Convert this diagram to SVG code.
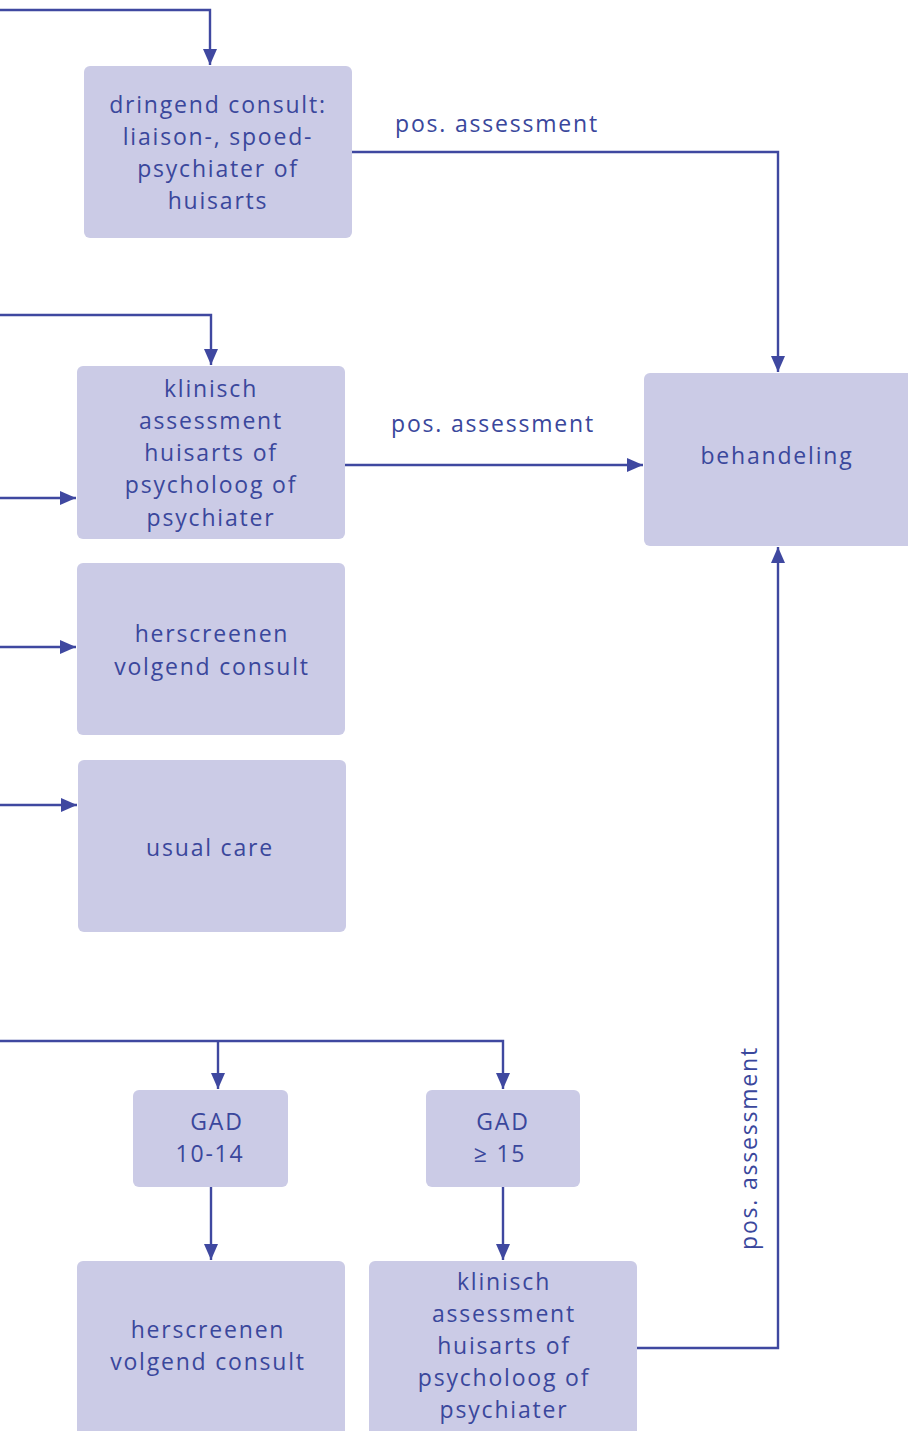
<svg xmlns="http://www.w3.org/2000/svg" width="908" height="1431" viewBox="0 0 908 1431">
<defs>
<style>
.box{fill:#CBCBE6;}
.t{font-family:"Open Sans","Noto Sans",sans-serif;font-size:23px;fill:#3A479C;text-anchor:middle;letter-spacing:1.8px;}
.c{fill:none;stroke:#3F48A0;stroke-width:2.4;}
</style>
<marker id="ah" viewBox="0 0 16 14" refX="16" refY="7" markerWidth="16" markerHeight="14" markerUnits="userSpaceOnUse" orient="auto">
<path d="M0,0 L16,7 L0,14 Z" fill="#3F48A0"/>
</marker>
</defs>
<rect width="908" height="1431" fill="#fff"/>
<g id="connectors">
<path class="c" d="M0,10 H210 V65" marker-end="url(#ah)"/>
<path class="c" d="M352,152 H778 V372" marker-end="url(#ah)"/>
<path class="c" d="M0,315 H211 V365" marker-end="url(#ah)"/>
<path class="c" d="M345,465 H643" marker-end="url(#ah)"/>
<path class="c" d="M0,498 H76" marker-end="url(#ah)"/>
<path class="c" d="M0,647 H76" marker-end="url(#ah)"/>
<path class="c" d="M0,805 H77" marker-end="url(#ah)"/>
<path class="c" d="M0,1041 H503 V1089" marker-end="url(#ah)"/>
<path class="c" d="M218,1041 V1089" marker-end="url(#ah)"/>
<path class="c" d="M211,1187 V1260" marker-end="url(#ah)"/>
<path class="c" d="M503,1187 V1260" marker-end="url(#ah)"/>
<path class="c" d="M637,1348 H778 V547" marker-end="url(#ah)"/>
<text class="t" x="497" y="132">pos. assessment</text>
<text class="t" x="493" y="432">pos. assessment</text>
<text class="t" transform="translate(757,1148) rotate(-90)">pos. assessment</text>
</g>
<g id="dringend">
<rect class="box" x="84" y="66" width="268" height="172" rx="6"/>
<text class="t" x="218" y="113">dringend consult:</text>
<text class="t" x="218" y="145">liaison-, spoed-</text>
<text class="t" x="218" y="177">psychiater of</text>
<text class="t" x="218" y="209">huisarts</text>
</g>
<g id="klinisch1">
<rect class="box" x="77" y="366" width="268" height="173" rx="6"/>
<text class="t" x="211" y="397">klinisch</text>
<text class="t" x="211" y="429">assessment</text>
<text class="t" x="211" y="461">huisarts of</text>
<text class="t" x="211" y="493">psycholoog of</text>
<text class="t" x="211" y="526">psychiater</text>
</g>
<g id="herscreenen1">
<rect class="box" x="77" y="563" width="268" height="172" rx="6"/>
<text class="t" x="212" y="642">herscreenen</text>
<text class="t" x="212" y="675">volgend consult</text>
</g>
<g id="usualcare">
<rect class="box" x="78" y="760" width="268" height="172" rx="6"/>
<text class="t" x="210" y="856">usual care</text>
</g>
<g id="behandeling">
<rect class="box" x="644" y="373" width="274" height="173" rx="6"/>
<text class="t" x="777" y="464">behandeling</text>
</g>
<g id="gad1014">
<rect class="box" x="133" y="1090" width="155" height="97" rx="6"/>
<text class="t" x="217" y="1130">GAD</text>
<text class="t" x="210" y="1162">10-14</text>
</g>
<g id="gad15">
<rect class="box" x="426" y="1090" width="154" height="97" rx="6"/>
<text class="t" x="503" y="1130">GAD</text>
<text class="t" x="500" y="1162">≥ 15</text>
</g>
<g id="herscreenen2">
<rect class="box" x="77" y="1261" width="268" height="180" rx="6"/>
<text class="t" x="208" y="1338">herscreenen</text>
<text class="t" x="208" y="1370">volgend consult</text>
</g>
<g id="klinisch2">
<rect class="box" x="369" y="1261" width="268" height="180" rx="6"/>
<text class="t" x="504" y="1290">klinisch</text>
<text class="t" x="504" y="1322">assessment</text>
<text class="t" x="504" y="1354">huisarts of</text>
<text class="t" x="504" y="1386">psycholoog of</text>
<text class="t" x="504" y="1418">psychiater</text>
</g>
</svg>
